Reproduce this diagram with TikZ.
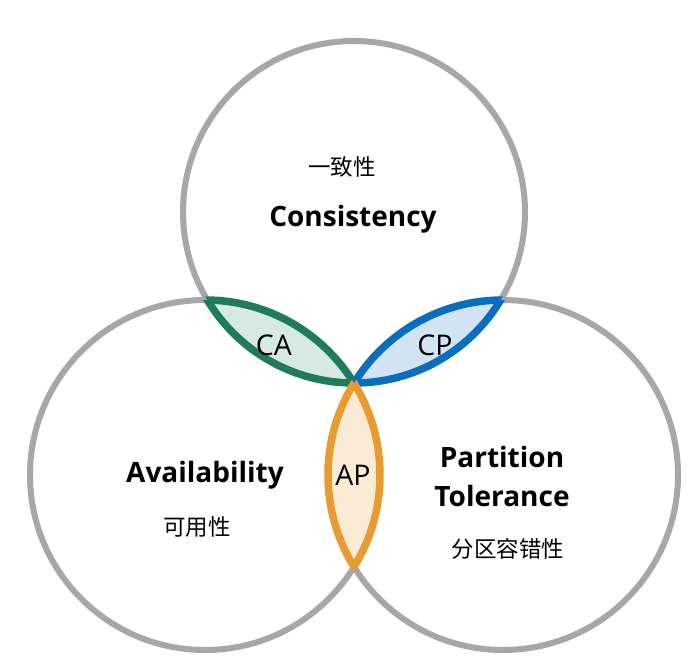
\documentclass[tikz,border=0pt]{standalone}
\usepackage{fontspec}
\setmainfont{Open Sans}
\newfontfamily\cjk{Noto Sans CJK SC}
\definecolor{ringgrey}{RGB}{166,166,171}
\definecolor{cagreen}{RGB}{30,123,92}
\definecolor{cafill}{RGB}{214,233,226}
\definecolor{cpblue}{RGB}{10,110,190}
\definecolor{cpfill}{RGB}{210,227,244}
\definecolor{aporange}{RGB}{232,155,48}
\definecolor{apfill}{RGB}{252,235,212}
\tikzset{
  ring/.style={draw=ringgrey, line width=6pt},
  lensline/.style={line width=7.5pt},
  bigword/.style={font=\fontsize{28}{39}\selectfont\bfseries, align=center, inner sep=0pt},
  pairword/.style={font=\fontsize{28.5}{30}\selectfont, inner sep=0pt},
  cjkword/.style={font=\cjk\fontsize{22.5}{26}\selectfont, inner sep=0pt},
}
\begin{document}
\begin{tikzpicture}[x=1pt,y=-1pt]
\useasboundingbox (0,0) rectangle (697,664);
\fill[white] (0,0) rectangle (697,664);
\coordinate (T) at (354,212);
\coordinate (L) at (205,475);
\coordinate (R) at (503,475);
\def\rT{171}
\def\rS{175}
% grey circles
\draw[ring] (T) circle (\rT);
\draw[ring] (L) circle (\rS);
\draw[ring] (R) circle (\rS);
% CA lens
\begin{scope}
  \clip (T) circle (\rT);
  \fill[cafill] (L) circle (\rS);
  \draw[lensline, cagreen] (L) circle (\rS);
\end{scope}
\begin{scope}
  \clip (L) circle (\rS);
  \draw[lensline, cagreen] (T) circle (\rT);
\end{scope}
% CP lens
\begin{scope}
  \clip (T) circle (\rT);
  \fill[cpfill] (R) circle (\rS);
  \draw[lensline, cpblue] (R) circle (\rS);
\end{scope}
\begin{scope}
  \clip (R) circle (\rS);
  \draw[lensline, cpblue] (T) circle (\rT);
\end{scope}
% AP lens
\begin{scope}
  \clip (L) circle (\rS);
  \fill[apfill] (R) circle (\rS);
  \draw[lensline, aporange] (R) circle (\rS);
\end{scope}
\begin{scope}
  \clip (R) circle (\rS);
  \draw[lensline, aporange] (L) circle (\rS);
\end{scope}
% texts
\node[cjkword] (czh) at (342,167) {一致性};
\node[bigword] (cen) at (353,219) {Consistency};
\node[pairword] (ca) at (274,345) {CA};
\node[pairword] (cp) at (435,345) {CP};
\node[pairword] (ap) at (353,475) {AP};
\node[bigword] (aen) at (205,475) {Availability};
\node[cjkword] (azh) at (197,527) {可用性};
\node[bigword] (pen) at (502,476) {Partition\\Tolerance};
\node[cjkword] (pzh) at (508,549) {分区容错性};
\end{tikzpicture}
\end{document}
